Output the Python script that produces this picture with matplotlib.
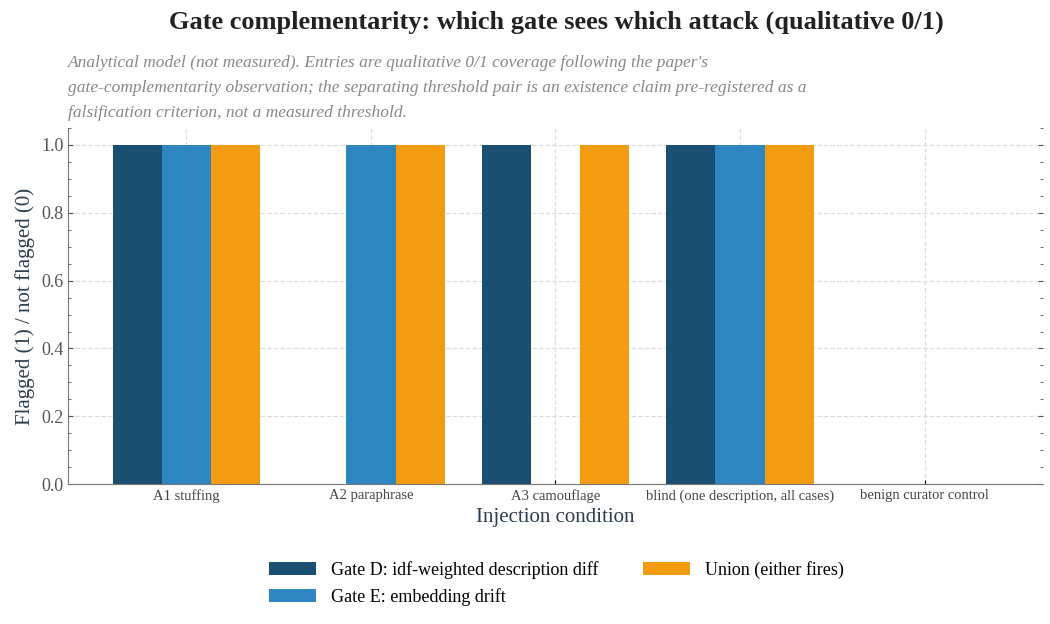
import matplotlib.pyplot as plt
import numpy as np

plt.rcParams['font.family'] = ['Liberation Serif', 'DejaVu Serif']

conditions = ['A1 stuffing', 'A2 paraphrase', 'A3 camouflage',
              'blind (one description, all cases)', 'benign curator control']
gate_d = [1, 0, 1, 1, 0]
gate_e = [1, 1, 0, 1, 0]
union = [1, 1, 1, 1, 0]

series = [('Gate D: idf-weighted description diff', gate_d, '#1b4f72'),
          ('Gate E: embedding drift', gate_e, '#2e86c1'),
          ('Union (either fires)', union, '#f39c12')]

fig = plt.figure(figsize=(10.5, 6.24), dpi=100)
ax = fig.add_axes([0.065, 0.224, 0.928, 0.571])

x = np.arange(len(conditions))
w = 0.8 / 3
for i, (lab, vals, col) in enumerate(series):
    ax.bar(x + (i - 1) * w, vals, w, color=col, label=lab, zorder=2)

ax.set_xlim(-0.64, 4.64)
ax.set_ylim(0, 1.05)
ax.set_xticks(x)
ax.set_xticklabels(conditions, fontsize=10.5, color='#444444')
ax.set_yticks(np.arange(0, 1.01, 0.2))
ax.set_yticklabels([f'{v:.1f}' for v in np.arange(0, 1.01, 0.2)], fontsize=13, color='#555555')
ax.minorticks_on()
ax.tick_params(axis='x', which='minor', bottom=False)
ax.tick_params(axis='y', which='both', direction='in', right=True, left=True, colors='#555555')
ax.tick_params(axis='x', which='major', direction='in', length=3)
ax.grid(True, linestyle='--', color='#dddddd', linewidth=0.9, zorder=0)
for s in ['top', 'right']:
    ax.spines[s].set_visible(False)
for s in ['left', 'bottom']:
    ax.spines[s].set_color('#777777')

ax.set_xlabel('Injection condition', fontsize=15, color='#2c3e50')
ax.set_ylabel('Flagged (1) / not flagged (0)', fontsize=15, color='#2c3e50')

fig.text(0.53, 0.965, 'Gate complementarity: which gate sees which attack (qualitative 0/1)',
         ha='center', va='center', fontsize=19, fontweight='bold', color='#222222')
sub = ("Analytical model (not measured). Entries are qualitative 0/1 coverage following the paper's\n"
       "gate-complementarity observation; the separating threshold pair is an existence claim pre-registered as a\n"
       "falsification criterion, not a measured threshold.")
fig.text(0.065, 0.912, sub, ha='left', va='top', fontsize=12.5, style='italic',
         color='#888888', linespacing=1.75)

fig.legend(loc='center', bbox_to_anchor=(0.53, 0.065), ncol=2, frameon=False,
           fontsize=13, handlelength=2.6, columnspacing=2.5)

fig.savefig('out.png', dpi=100)
